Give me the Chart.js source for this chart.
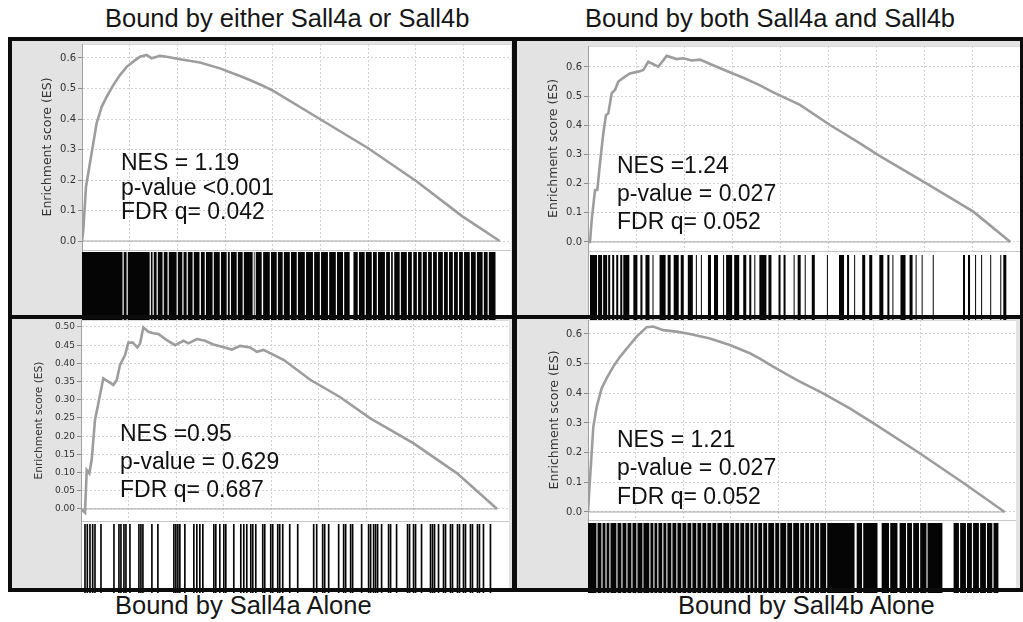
<!DOCTYPE html>
<html>
<head>
<meta charset="utf-8">
<title>GSEA - Sall4 bound genes</title>
<script src="https://cdn.jsdelivr.net/npm/chart.js@4.4.1/dist/chart.umd.min.js"></script>
<style>
    body { margin: 0; width: 1023px; height: 622px; overflow: hidden; position: relative; background: #fff; font-family: "Liberation Sans", Arial, sans-serif; }
    .frame { position: absolute; background: #0c0c0c; z-index: 6; }
    .panel { position: absolute; background: #e3e3e3; }
    .plot { position: absolute; background: #fff; border-top: 1px solid #dadada; border-left: 1px solid #a8a8a8; box-sizing: border-box; }
    .sep { position: absolute; height: 1px; background: #c6c6c6; z-index: 1; }
    .title { position: absolute; font-size: 25.5px; line-height: 25.5px; color: #161616; white-space: nowrap; }
    .stat { position: absolute; font-size: 23px; line-height: 23px; color: #111; white-space: nowrap; z-index: 4; }
    canvas { position: absolute; z-index: 2; }
</style>
</head>
<body>
<script>
// Gene rank axis (ranked list), shared by all four panels
const rankMax = 18000;
const rankStep = 2000;

// Panel 1 - Bound by either Sall4a or Sall4b
const esRank1 = [0, 55, 168, 264, 474, 616, 826, 1036, 1312, 1593, 1874, 2151, 2432, 2713, 2922, 3271, 3551, 4109, 4948, 5786, 6625, 7044, 7590, 8009, 9979, 11992, 14046, 15975, 17527];
const esScore1 = [0, 0.036, 0.178, 0.223, 0.321, 0.387, 0.44, 0.473, 0.511, 0.544, 0.571, 0.588, 0.604, 0.61, 0.599, 0.607, 0.604, 0.596, 0.585, 0.566, 0.541, 0.528, 0.509, 0.493, 0.40, 0.305, 0.195, 0.08, 0];
const hits1 = [[0,1700],[1750,1870],[1920,2840],[2890,2960],[3010,3130],[3180,3380],[3430,3590],[3640,3970],[4020,4210],[4260,4390],[4440,4640],[4690,4930],[4990,5150],[5200,5480],[5530,5780],[5830,6070],[6120,6200],[6250,6490],[6540,6740],[6790,7160],[7210,7240],[7290,7540],[7600,7880],[7930,8170],[8220,8420],[8470,8720],[8770,9010],[9060,9350],[9400,9690],[9740,9980],[10030,10320],[10370,10650],[10700,10950],[11000,11230],[11390,11570],[11620,11860],[11910,12160],[12210,12370],[12420,12710],[12760,12920],[12970,13040],[13100,13330],[13380,13630],[13680,13840],[13900,14050],[14100,14250],[14300,14470],[14520,14680],[14730,14890],[14940,15140],[15190,15350],[15400,15560],[15610,15770],[15820,15980],[16030,16270],[16320,16520],[16570,16810],[16860,17020],[17070,17350]];
const stats1 = ['NES = 1.19', 'p-value <0.001', 'FDR q= 0.042'];

// Panel 2 - Bound by both Sall4a and Sall4b
const esRank2 = [0, 83, 154, 292, 388, 500, 638, 750, 846, 988, 1125, 1263, 1542, 1750, 2096, 2304, 2513, 2929, 3279, 3696, 3971, 4321, 4667, 5084, 5780, 6471, 7167, 7721, 8834, 10084, 11334, 12096, 14113, 16055, 17600];
const esScore2 = [0, 0, 0.075, 0.178, 0.178, 0.27, 0.373, 0.435, 0.441, 0.51, 0.521, 0.55, 0.567, 0.578, 0.584, 0.59, 0.618, 0.601, 0.638, 0.627, 0.63, 0.622, 0.625, 0.61, 0.586, 0.563, 0.537, 0.513, 0.47, 0.401, 0.338, 0.298, 0.2, 0.104, 0];
const hits2 = [[84,378],[420,588],[630,798],[840,924],[1008,1092],[1176,1260],[1344,1428],[1470,1722],[1890,2058],[2184,2268],[2394,2562],[2688,2730],[2982,3234],[3318,3444],[3570,3780],[3864,3990],[4158,4368],[4494,4536],[4704,4746],[4998,5124],[5250,5418],[5628,5670],[5754,6006],[6090,6300],[6468,6594],[6720,6804],[6930,6972],[7140,7434],[7518,7644],[7938,8022],[8148,8232],[8568,8610],[8736,8862],[9030,9072],[9324,9450],[9954,9996],[10458,10668],[10794,10878],[11088,11130],[11424,11550],[11718,11844],[12138,12306],[12474,12558],[12684,12726],[13020,13230],[13398,13524],[13650,13692],[13902,13944],[14364,14406],[15624,15708],[15834,15918],[16128,16170],[16380,16422],[16758,16800],[17178,17220],[17304,17430]];
const stats2 = ['NES =1.24', 'p-value = 0.027', 'FDR q= 0.052'];

// Panel 3 - Bound by Sall4a alone
const esRank3 = [0, 168, 240, 349, 450, 589, 728, 939, 1149, 1360, 1503, 1642, 1852, 1991, 2177, 2370, 2484, 2623, 2833, 3044, 3254, 3608, 3957, 4307, 4517, 4871, 5220, 5570, 5923, 6344, 6694, 7115, 7397, 7675, 8517, 9641, 10904, 12167, 13990, 15817, 17501];
const esScore3 = [0, -0.01, 0.107, 0.098, 0.135, 0.245, 0.29, 0.359, 0.35, 0.341, 0.354, 0.396, 0.423, 0.457, 0.457, 0.444, 0.455, 0.499, 0.487, 0.483, 0.481, 0.464, 0.45, 0.462, 0.455, 0.467, 0.462, 0.452, 0.446, 0.438, 0.448, 0.444, 0.432, 0.437, 0.41, 0.355, 0.307, 0.249, 0.18, 0.098, 0];
const hits3 = [[133,203],[230,300],[343,413],[456,526],[553,623],[805,875],[1351,1421],[1561,1631],[1645,1715],[1771,1841],[1855,1925],[2023,2093],[2401,2471],[2485,2555],[2569,2639],[2947,3017],[3199,3269],[3871,3941],[3955,4025],[4039,4109],[4123,4193],[4333,4403],[4711,4781],[4837,4907],[4963,5033],[5089,5159],[5551,5621],[5635,5705],[5803,5873],[5971,6041],[6055,6125],[6391,6461],[6685,6755],[6811,6881],[6937,7007],[7105,7175],[7189,7259],[7315,7385],[7609,7679],[7693,7763],[7945,8015],[8029,8099],[8239,8309],[8323,8393],[8449,8519],[8743,8813],[9079,9149],[9751,9821],[9877,9947],[10129,10199],[10213,10283],[10381,10451],[10801,10871],[11011,11081],[11095,11165],[11305,11375],[11389,11459],[11767,11837],[12061,12131],[12145,12215],[12271,12341],[12355,12425],[12439,12509],[12607,12677],[12901,12971],[12985,13055],[13237,13307],[13699,13769],[13783,13853],[13951,14021],[14035,14105],[14287,14357],[14665,14735],[14749,14819],[14833,14903],[15001,15071],[15211,15281],[15295,15365],[15505,15575],[15589,15659],[15799,15869],[15883,15953],[16051,16121],[16135,16205],[16345,16415],[16429,16499],[16639,16709],[16723,16793],[16891,16961],[17185,17255]];
const stats3 = ['NES =0.95', 'p-value = 0.629', 'FDR q= 0.687'];

// Panel 4 - Bound by Sall4b alone
const esRank4 = [0, 55, 126, 223, 366, 576, 786, 1063, 1345, 1693, 2046, 2467, 2744, 3164, 3727, 4286, 5126, 5966, 6807, 7227, 7786, 8770, 9887, 11009, 12131, 13951, 15913, 17522];
const esScore4 = [0, 0.074, 0.164, 0.287, 0.355, 0.417, 0.451, 0.49, 0.523, 0.557, 0.591, 0.623, 0.625, 0.613, 0.608, 0.6, 0.585, 0.563, 0.535, 0.517, 0.49, 0.445, 0.4, 0.349, 0.293, 0.198, 0.091, 0];
const hits4 = [[0,355],[400,565],[610,735],[780,900],[945,1195],[1240,1405],[1450,1615],[1660,1825],[1870,2035],[2080,2290],[2330,2580],[2625,2750],[2795,2915],[2960,3125],[3170,3295],[3340,3505],[3550,3715],[3760,3925],[3970,4135],[4180,4345],[4390,4555],[4600,4765],[4810,4975],[5020,5185],[5230,5395],[5440,5645],[5690,5940],[5985,6150],[6195,6360],[6405,6570],[6615,6780],[6825,6950],[6995,7115],[7160,7325],[7370,7535],[7580,7830],[7875,8040],[8085,8335],[8380,8585],[8630,8880],[8925,9090],[9135,9300],[9345,9510],[9555,9720],[9765,10015],[10060,11210],[11300,11525],[11575,12175],[12350,12660],[12710,13015],[13105,13375],[13420,13625],[13675,13920],[13970,14235],[14280,14905],[15375,15600],[15650,15895],[15940,16145],[16195,16440],[16490,16735],[16780,17005],[17055,17260]];
const stats4 = ['NES = 1.21', 'p-value = 0.027', 'FDR q= 0.052'];

const titles = ['Bound by either Sall4a or Sall4b', 'Bound by both Sall4a and Sall4b', 'Bound by Sall4a Alone', 'Bound by Sall4b Alone'];

// Panel layout (page pixels)
const panels = [
    { rank: esRank1, score: esScore1, hits: hits1, stats: stats1, panelX: 12, panelY: 41, panelW: 500, panelH: 274,
      x0: 82, right: 511, top: 44, sep: 250, hitsTop: 252, bottom: 315,
      yMin: -0.0295, yMax: 0.6459, yStep: 0.1, digits: 1, tickSize: 10, labelSize: 12.5, labelPad: 28,
      statX: 121, statY: [150.5, 175.5, 199.5] },
    { rank: esRank2, score: esScore2, hits: hits2, stats: stats2, panelX: 517, panelY: 41, panelW: 503, panelH: 274,
      x0: 588, right: 1020, top: 46, sep: 251, hitsTop: 255, bottom: 315,
      yMin: -0.0309, yMax: 0.6719, yStep: 0.1, digits: 1, tickSize: 10, labelSize: 12.5, labelPad: 29,
      statX: 617, statY: [153.5, 181.5, 209.5] },
    { rank: esRank3, score: esScore3, hits: hits3, stats: stats3, panelX: 12, panelY: 319, panelW: 500, panelH: 269,
      x0: 81, right: 509, top: 320, sep: 521, hitsTop: 524, bottom: 588,
      yMin: -0.033, yMax: 0.5192, yStep: 0.05, digits: 2, tickSize: 9, labelSize: 10.6, labelPad: 21,
      statX: 120, statY: [421.5, 449.5, 477.5] },
    { rank: esRank4, score: esScore4, hits: hits4, stats: stats4, panelX: 517, panelY: 319, panelW: 503, panelH: 269,
      x0: 588, right: 1016, top: 320, sep: 520, hitsTop: 523, bottom: 588,
      yMin: -0.027, yMax: 0.6471, yStep: 0.1, digits: 1, tickSize: 10, labelSize: 12.5, labelPad: 30,
      statX: 617, statY: [427.5, 456, 484.5] }
];

const titlePos = [[105, 6.4], [585, 6.4], [115, 593.4], [678, 593.4]];

// Small DOM helpers
function addBox(cls, x, y, w, h) {
    const d = document.createElement('div');
    d.className = cls;
    d.style.left = x + 'px';
    d.style.top = y + 'px';
    if (w !== undefined) d.style.width = w + 'px';
    if (h !== undefined) d.style.height = h + 'px';
    document.body.appendChild(d);
    return d;
}

function addText(cls, x, y, text) {
    const d = addBox(cls, x, y);
    d.textContent = text;
    return d;
}

function makeCanvas(x, y, w, h) {
    const c = document.createElement('canvas');
    c.width = w;
    c.height = h;
    c.style.left = x + 'px';
    c.style.top = y + 'px';
    c.style.width = w + 'px';
    c.style.height = h + 'px';
    document.body.appendChild(c);
    return c;
}

// Running enrichment score curve
function drawEsChart(p) {
    const canvas = makeCanvas(p.panelX, p.top - 10, p.right - p.panelX, p.sep - p.top + 20);
    const lastRank = p.rank[p.rank.length - 1];
    new Chart(canvas, {
        type: 'line',
        data: {
            datasets: [
                {
                    data: p.rank.map((r, i) => ({ x: r, y: p.score[i] })),
                    borderColor: '#9d9d9d',
                    borderWidth: 2.6,
                    pointRadius: 0,
                    tension: 0
                },
                {
                    data: [{ x: 0, y: 0 }, { x: lastRank, y: 0 }],
                    borderColor: '#a8a8a8',
                    borderWidth: 1,
                    pointRadius: 0
                }
            ]
        },
        options: {
            responsive: false,
            animation: false,
            events: [],
            layout: { padding: { top: 10, bottom: 10, left: 0, right: 0 } },
            plugins: { legend: { display: false }, tooltip: { enabled: false } },
            scales: {
                x: {
                    type: 'linear',
                    min: 0,
                    max: rankMax,
                    ticks: { display: false, stepSize: rankStep },
                    grid: { color: '#d2d2d2', drawTicks: false },
                    border: { display: false, dash: [2, 2] },
                    afterFit: s => { s.height = 0; }
                },
                y: {
                    min: p.yMin,
                    max: p.yMax,
                    ticks: {
                        stepSize: p.yStep,
                        includeBounds: false,
                        color: '#333',
                        padding: 2,
                        font: { family: 'DejaVu Sans', size: p.tickSize },
                        callback: v => v.toFixed(p.digits)
                    },
                    grid: { color: '#d2d2d2', tickColor: '#8c8c8c', tickLength: 4 },
                    border: { color: '#a0a0a0', dash: [2, 2] },
                    title: {
                        display: true,
                        text: 'Enrichment score (ES)',
                        color: '#333',
                        font: { family: 'DejaVu Sans', size: p.labelSize },
                        padding: { top: p.labelPad, bottom: 0 }
                    },
                    afterFit: s => { s.width = p.x0 - p.panelX; }
                }
            }
        }
    });
}

// Hit positions of the gene set in the ranked list
function drawHitChart(p) {
    const canvas = makeCanvas(p.x0, p.hitsTop - 10, p.right - p.x0, p.bottom - p.hitsTop + 25);
    new Chart(canvas, {
        type: 'bar',
        data: {
            labels: ['hits'],
            datasets: [{
                data: p.hits.map(h => ({ y: 'hits', x: h })),
                backgroundColor: '#050505',
                borderWidth: 0,
                inflateAmount: 0,
                barPercentage: 1,
                categoryPercentage: 1
            }]
        },
        options: {
            indexAxis: 'y',
            responsive: false,
            animation: false,
            events: [],
            layout: { padding: { top: 10, bottom: 10, left: 0, right: 0 } },
            plugins: { legend: { display: false }, tooltip: { enabled: false } },
            scales: {
                x: { type: 'linear', min: 0, max: rankMax, display: false },
                y: { display: false }
            }
        }
    });
}

// Build the figure
panels.forEach(p => {
    addBox('panel', p.panelX, p.panelY, p.panelW, p.panelH);
    addBox('plot', p.x0, p.top, p.right - p.x0, p.bottom - p.top);
    addBox('sep', p.x0, p.sep, p.right - p.x0);
    drawEsChart(p);
    drawHitChart(p);
    p.stats.forEach((s, i) => addText('stat', p.statX, p.statY[i], s));
});

// Black frame around and between the panels
addBox('frame', 8, 37, 1015, 4);
addBox('frame', 8, 588, 1015, 4);
addBox('frame', 8, 37, 4, 555);
addBox('frame', 1020, 37, 3, 555);
addBox('frame', 512, 37, 5, 555);
addBox('frame', 8, 315, 1015, 4);

titles.forEach((t, i) => addText('title', titlePos[i][0], titlePos[i][1], t));
</script>
</body>
</html>
